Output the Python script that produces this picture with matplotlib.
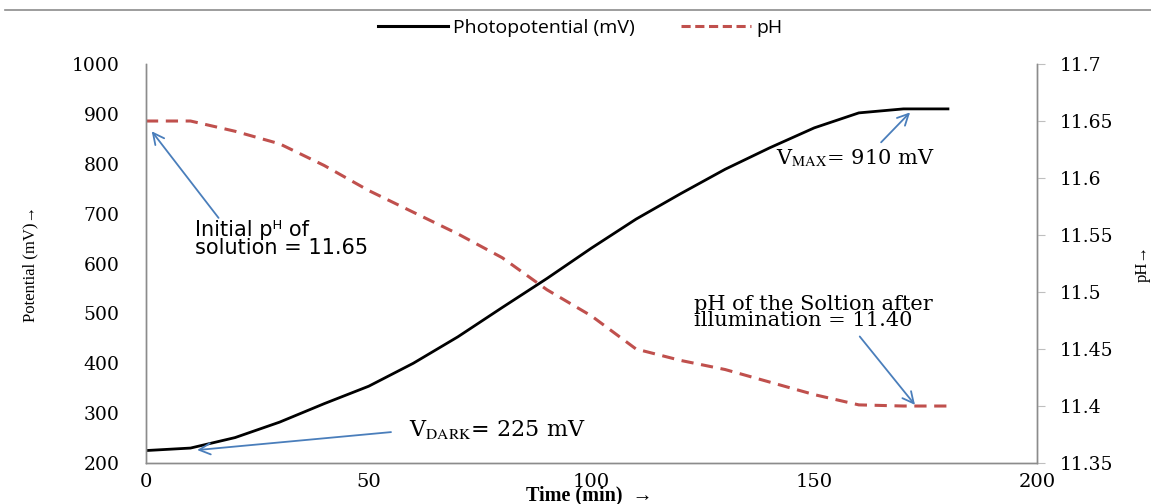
import matplotlib
matplotlib.use("Agg")
import matplotlib.pyplot as plt
from matplotlib.lines import Line2D

# values
time_min = [0, 10, 20, 30, 40, 50, 60, 70, 80, 90, 100, 110, 120, 130, 140, 150, 160, 170, 180]
potential_mv = [225, 230, 251, 282, 319, 354, 400, 453, 512, 570, 631, 689, 740, 789, 832, 872, 902, 910, 910]
ph_values = [11.65, 11.65, 11.641, 11.630, 11.611, 11.589, 11.570, 11.551, 11.530, 11.502,
             11.479, 11.450, 11.440, 11.432, 11.421, 11.410, 11.401, 11.40, 11.40]

left_ticks = [200, 300, 400, 500, 600, 700, 800, 900, 1000]
right_ticks = [11.35, 11.4, 11.45, 11.5, 11.55, 11.6, 11.65, 11.7]
right_labels = ["11.35", "11.4", "11.45", "11.5", "11.55", "11.6", "11.65", "11.7"]
x_ticks = [0, 50, 100, 150, 200]

plt.rcParams["mathtext.fontset"] = "stix"

BLACK = "#000000"
RED = "#c0504d"
BLUE = "#4a7ebb"
SPINE = "#8c8c8c"
SERIF = "DejaVu Serif"

fig = plt.figure(figsize=(11.51, 5.04), dpi=100)
ax = fig.add_axes([0.1268, 0.0813, 0.7742, 0.7917])
ax2 = ax.twinx()

ax.plot(time_min, potential_mv, color=BLACK, linewidth=2.0, solid_joinstyle="round")
ax2.plot(time_min, ph_values, color=RED, linewidth=2.2, linestyle=(0, (4, 2.5)))

ax.set_xlim(0, 200)
ax.set_ylim(200, 1000)
ax2.set_ylim(11.35, 11.7)

ax.set_xticks(x_ticks)
ax.set_xticklabels([str(v) for v in x_ticks], fontfamily=SERIF, fontsize=14)
ax.set_yticks(left_ticks)
ax.set_yticklabels([str(v) for v in left_ticks], fontfamily=SERIF, fontsize=13.5)
ax2.set_yticks(right_ticks)
ax2.set_yticklabels(right_labels, fontfamily=SERIF, fontsize=13.5)

ax.tick_params(axis="x", length=0, pad=7)
ax.tick_params(axis="y", length=0, pad=19)
ax2.tick_params(axis="y", length=6, width=0.8, color="#bfbfbf", pad=10)

for a in (ax, ax2):
    a.spines["top"].set_visible(False)
    for s in ("left", "right", "bottom"):
        a.spines[s].set_color(SPINE)
        a.spines[s].set_linewidth(1.0)

ax.set_ylabel("Potential (mV)\u2192", fontfamily="Liberation Serif", fontsize=12)
ax.yaxis.set_label_coords(-0.121, 0.5)
ax2.set_ylabel("pH\u2192", fontfamily="Liberation Serif", fontsize=12, rotation=90)
ax2.yaxis.set_label_coords(1.11, 0.5)

fig.text(0.512, 1 - 500 / 504, "Time (min)  \u2192", fontfamily="Liberation Serif",
         fontweight="bold", fontsize=14.5, ha="center", va="baseline")

# annotations
arrow = dict(arrowstyle="->", color=BLUE, linewidth=1.3, shrinkA=0, shrinkB=0,
             mutation_scale=20)
ax2.annotate("", xy=(1.3, 11.641), xytext=(16.3, 11.565), arrowprops=arrow)
ax2.text(11, 11.5465, "Initial p\u1d34 of\nsolution = 11.65", fontfamily="DejaVu Sans",
         fontsize=15, va="center", ha="left", linespacing=0.85)

ax.annotate("", xy=(171.5, 903), xytext=(165, 843), arrowprops=arrow)
ax.text(141.5, 812, "V$_{\\rm MAX}$= 910 mV", fontfamily=SERIF, fontsize=15,
        va="center", ha="left")

ax2.annotate("", xy=(172.6, 11.401), xytext=(160.2, 11.461), arrowprops=arrow)
ax2.text(123, 11.482, "pH of the Soltion after\nillumination = 11.40", fontfamily=SERIF,
         fontsize=15, va="center", ha="left", linespacing=0.8)

ax.annotate("", xy=(11.5, 226), xytext=(55, 262), arrowprops=arrow)
ax.text(59, 268, "V$_{\\rm DARK}$= 225 mV", fontfamily=SERIF, fontsize=16,
        va="center", ha="left")

# legend at top
handles = [Line2D([], [], color=BLACK, linewidth=2.2),
           Line2D([], [], color=RED, linewidth=2.2, linestyle=(0, (3, 1.5)))]
fig.legend(handles, ["Photopotential (mV)", "pH"], loc="center", bbox_to_anchor=(0.504, 0.944),
           ncol=2, frameon=False, prop={"family": "Open Sans", "size": 14},
           handlelength=3.6, handletextpad=0.25, columnspacing=2.4)

# thin rule across the top
fig.add_artist(Line2D([0.004, 1.0], [0.98, 0.98], color="#8c8c8c", linewidth=1.2,
                      transform=fig.transFigure))

fig.savefig("out.png", dpi=100)
